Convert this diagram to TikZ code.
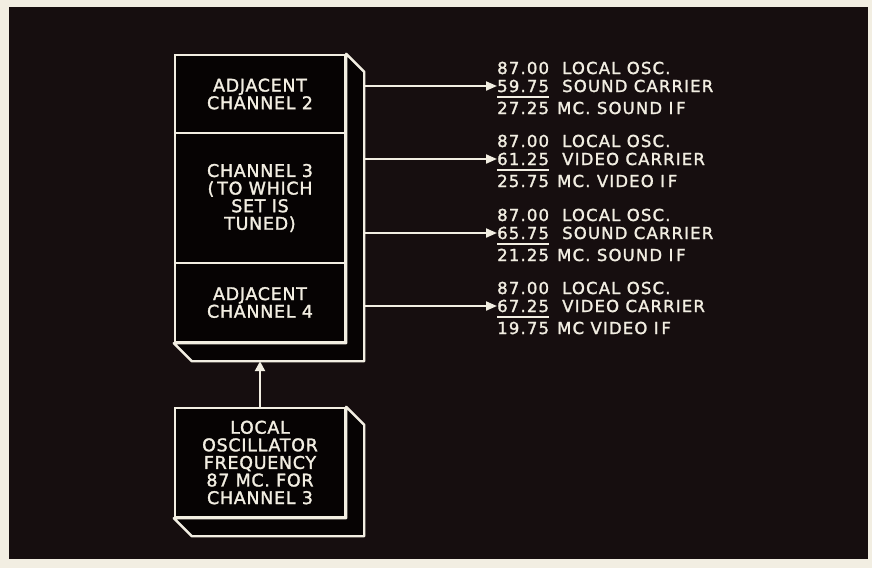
\documentclass[tikz,border=0pt]{standalone}
\usepackage{fontspec}
\usetikzlibrary{calc,arrows.meta}
\newfontfamily\lettering[LetterSpace=4,FakeBold=1.6]{DejaVu Sans}
\newfontfamily\rlettering[LetterSpace=7,FakeBold=1.6]{DejaVu Sans}
\newcommand\boxfnt{\lettering\fontsize{17.5}{17.6}\selectfont}
\newcommand\rfnt{\rlettering\fontsize{16.5}{18}\selectfont}
\definecolor{cream}{RGB}{242,238,226}
\definecolor{panel}{RGB}{22,14,15}
\definecolor{ink}{RGB}{6,3,3}
\begin{document}
\begin{tikzpicture}[x=1pt,y=-1pt,
  face/.style={draw=cream, fill=ink, line width=2.4pt, minimum width=170pt,
    inner sep=0pt, text=cream, align=center, font=\boxfnt},
  depthface/.style={draw=cream, fill=ink, line width=2.4pt, line join=round},
  num/.style={inner sep=0pt, text=cream, font=\rfnt, anchor=base west},
  arr/.style={draw=cream, line width=2pt, -{Triangle[length=11pt,width=9pt]}},
  uparr/.style={draw=cream, line width=2.4pt, -{Triangle[length=10pt,width=10pt]}},
  uline/.style={draw=cream, line width=2pt}]
\useasboundingbox (0,0) rectangle (872,568);
\fill[cream] (0,0) rectangle (872,568);
\fill[panel] (9,7) rectangle (868,559);

% main block
\node[face, minimum height=78pt] (ch2) at (260,94) {ADJACENT\\CHANNEL 2};
\node[face, minimum height=130pt] (ch3) at (260,198) {CHANNEL 3\\(\,TO WHICH\\SET IS\\TUNED)};
\node[face, minimum height=79pt] (ch4) at (260,302.5) {ADJACENT\\CHANNEL 4};
\path[depthface] (ch2.north east) -- ($(ch2.north east)+(18,18)$)
  -- ($(ch4.south east)+(18,18)$) -- ($(ch4.south west)+(18,18)$)
  -- (ch4.south west) -- (ch4.south east) -- cycle;
\coordinate (mb) at ($(ch4.south west)+(18,18)$);

% oscillator block
\node[face, minimum height=109pt] (osc) at (260,462.5) {LOCAL\\OSCILLATOR\\FREQUENCY\\87 MC. FOR\\CHANNEL 3};
\path[depthface] (osc.north east) -- ($(osc.north east)+(18,18)$)
  -- ($(osc.south east)+(18,18)$) -- ($(osc.south west)+(18,18)$)
  -- (osc.south west) -- (osc.south east) -- cycle;

\draw[uparr] (osc.north) -- (osc.north |- mb);

% right-hand calculations
\foreach \i/\b/\cn/\cw/\fn/\fw in {
  1/68/59.75/SOUND CARRIER/27.25/MC. SOUND I\,F,
  2/141/61.25/VIDEO CARRIER/25.75/MC. VIDEO I\,F,
  3/215/65.75/SOUND CARRIER/21.25/MC. SOUND I\,F,
  4/288/67.25/VIDEO CARRIER/19.75/MC VIDEO I\,F}
{
  \node[num] (lo\i) at (497,\b+6) {87.00};
  \node[num] (lw\i) at (562,\b+6) {LOCAL OSC.};
  \node[num] (cn\i) at (497,\b+24) {\cn};
  \node[num] (cw\i) at (562,\b+24) {\cw};
  \node[num] (fn\i) at (497,\b+46) {\fn};
  \node[num] (fw\i) at (557,\b+46) {\fw};
  \draw[uline] ($(cn\i.base west)+(0,4.5)$) -- ($(cn\i.base east)+(0,4.5)$);
  \coordinate (s\i) at (363,\b+18);
  \draw[arr] (s\i) -- (s\i -| cn\i.west);
}
\end{tikzpicture}
\end{document}
